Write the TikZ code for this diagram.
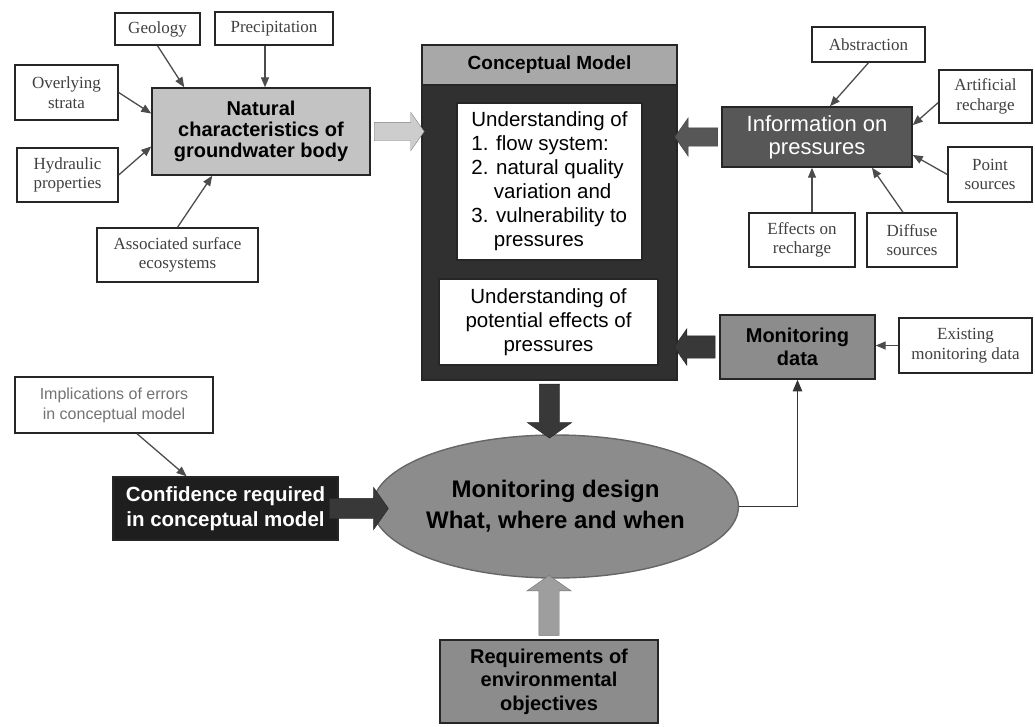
\documentclass[tikz,border=0pt]{standalone}
\usepackage{fontspec}
\setmainfont{Liberation Sans}
\newfontfamily\rmbox{Liberation Serif}
\usetikzlibrary{arrows,shapes.geometric,shapes.arrows}
\tikzset{arrows={-triangle 45}}
\newcommand\fs[2]{\fontsize{#1}{#2}\selectfont}
\definecolor{natfill}{HTML}{C3C3C3}
\definecolor{lightarr}{HTML}{CDCDCD}
\definecolor{cmdark}{HTML}{303030}
\definecolor{cmtitle}{HTML}{A8A8A8}
\definecolor{infofill}{HTML}{575757}
\definecolor{midfill}{HTML}{8C8C8C}
\definecolor{conffill}{HTML}{1E1E1E}
\definecolor{darkarr}{HTML}{383838}

\begin{document}
\begin{tikzpicture}[x=1pt, y=-1pt,
    factor/.style={draw=black!85, line width=1.4pt, fill=white, text=black!75,
      font=\rmbox\fs{17}{19.5}, align=center, inner sep=0pt},
    feed/.style={color=black!70, line width=1.3pt},
    mainbox/.style={draw=black!85, line width=1.6pt, align=center, inner sep=0pt},
    blockarr/.style={single arrow, inner xsep=0pt, inner ysep=#1, minimum width=0pt,
      single arrow tip angle=110, midway, sloped, allow upside down}]

  \useasboundingbox (0,0) rectangle (1035,726);

  % natural characteristics and what feeds it
  \node[mainbox, fill=natfill, minimum width=218pt, minimum height=87pt,
    font=\bfseries\fs{20}{21}] (nat) at (261,131.5) {Natural\\characteristics of\\groundwater body};
  \node[factor, minimum width=85pt, minimum height=32pt] (geo) at (157.5,29) {Geology};
  \node[factor, minimum width=118pt, minimum height=33pt] (prec) at (274,28.5) {Precipitation};
  \node[factor, minimum width=103pt, minimum height=55pt] (over) at (66.5,92.5) {Overlying\\strata};
  \node[factor, minimum width=101pt, minimum height=54pt] (hyd) at (67.5,175) {Hydraulic\\properties};
  \node[factor, minimum width=161pt, minimum height=54pt] (assoc) at (177.5,255) {Associated surface\\ecosystems};
  \path[feed] (geo.south) edge ([xshift=33pt]nat.north west)
        ([xshift=-9pt]prec.south) edge ([xshift=-9pt]prec.south |- nat.north)
        (over.east) edge ([yshift=18pt]nat.west)
        (hyd.east) edge ([yshift=-15pt]nat.west)
        (assoc.north) edge ([xshift=61pt]nat.south west);

  % conceptual model
  \node[mainbox, fill=cmdark, minimum width=255pt, minimum height=335pt] (cm) at (549.5,212.5) {};
  \node[mainbox, fill=cmtitle, minimum width=255pt, minimum height=40pt,
    font=\bfseries\fs{19}{21}] (cmt) at (549.5,65) {Conceptual Model};
  \node[mainbox, fill=white, minimum width=185pt, minimum height=157pt, align=left,
    font=\fs{20.5}{24}] (und1) at (549.5,181.5)
    {Understanding of\\1. flow system:\\2. natural quality\\\hspace*{1.1em}variation and\\3. vulnerability to\\\hspace*{1.1em}pressures};
  \node[mainbox, fill=white, minimum width=219pt, minimum height=86pt,
    font=\fs{20.5}{24}] (und2) at (548.5,322) {Understanding of\\potential effects of\\pressures};

  % pressures
  \node[mainbox, fill=infofill, text=white, minimum width=190pt, minimum height=60pt,
    font=\fs{22}{23}] (info) at (817,137) {Information on\\pressures};
  \node[factor, minimum width=113pt, minimum height=35pt] (abst) at (868.5,44.5) {Abstraction};
  \node[factor, minimum width=93pt, minimum height=53pt] (artr) at (985.5,96.5) {Artificial\\recharge};
  \node[factor, minimum width=84pt, minimum height=55pt] (pts) at (990,174.5) {Point\\sources};
  \node[factor, minimum width=106pt, minimum height=54pt] (effr) at (802,240) {Effects on\\recharge};
  \node[factor, minimum width=90pt, minimum height=54pt] (diff) at (912,240) {Diffuse\\sources};
  \path[feed] (abst.south) edge ([xshift=13pt]info.north)
        ([yshift=-6pt]artr.west) edge ([yshift=12pt]info.east)
        (pts.west) edge ([yshift=-18pt]info.east)
        ([xshift=10pt]effr.north) edge ([xshift=10pt]effr.north |- info.south)
        ([xshift=-9pt]diff.north) edge ([xshift=55pt]info.south);

  % monitoring data
  \node[mainbox, fill=midfill, minimum width=155pt, minimum height=64pt,
    font=\bfseries\fs{20}{23}] (mdata) at (797.5,347) {Monitoring\\data};
  \node[factor, minimum width=133pt, minimum height=55pt] (exist) at (965.5,345.5) {Existing\\monitoring data};
  \path[feed] (exist.west) edge (exist.west -| mdata.east);

  % monitoring design
  \node[ellipse, draw=black!60, line width=1.4pt, fill=midfill, minimum width=315pt,
    minimum height=143pt, inner sep=0pt, align=center,
    font=\bfseries\fs{24}{31}] (ell) at (555.5,506.5) {Monitoring design\\What, where and when};
  \node[mainbox, fill=conffill, text=white, minimum width=225pt, minimum height=63pt,
    font=\bfseries\fs{20.5}{25}] (conf) at (225.5,508.5) {Confidence required\\in conceptual model};
  \node[factor, minimum width=198pt, minimum height=56pt, text=black!55,
    font=\fs{16}{20}] (impl) at (114,405) {Implications of errors\\in conceptual model};
  \node[mainbox, fill=midfill, minimum width=218pt, minimum height=83pt,
    font=\bfseries\fs{20}{23.5}] (req) at (549,681.5) {Requirements of\\environmental\\objectives};
  \path[feed] ([xshift=23pt]impl.south) edge ([xshift=-39pt]conf.north);
  \draw[feed, color=black!80, line width=1.7pt] (ell.east) -| (mdata.south);

  % block arrows
  \path (nat.east) -- (nat.east -| cm.west) node[blockarr=9pt, draw=black!50, fill=lightarr,
    single arrow head extend=10pt, minimum height=50pt] {};
  \path (info.west) -- (info.west -| cm.east) node[blockarr=9pt, draw=black!75, fill=infofill,
    single arrow head extend=10pt, minimum height=43pt] {};
  \path (mdata.west) -- (mdata.west -| cm.east) node[blockarr=11pt, draw=black!85, fill=darkarr,
    single arrow head extend=7pt, minimum height=41pt] {};
  \path (cm.south) -- (cm.south |- ell.north) node[blockarr=10pt, draw=black!85, fill=darkarr,
    single arrow head extend=12pt, minimum height=54pt] {};
  \path (req.north) -- (req.north |- ell.south) node[blockarr=10pt, draw=black!55, fill=black!38,
    single arrow head extend=12pt, minimum height=60pt] {};
  \path (conf.east) -- (conf.east -| ell.west) node[blockarr=10pt, draw=black!85, fill=darkarr,
    single arrow head extend=11pt, minimum height=59pt] {};
\end{tikzpicture}
\end{document}
